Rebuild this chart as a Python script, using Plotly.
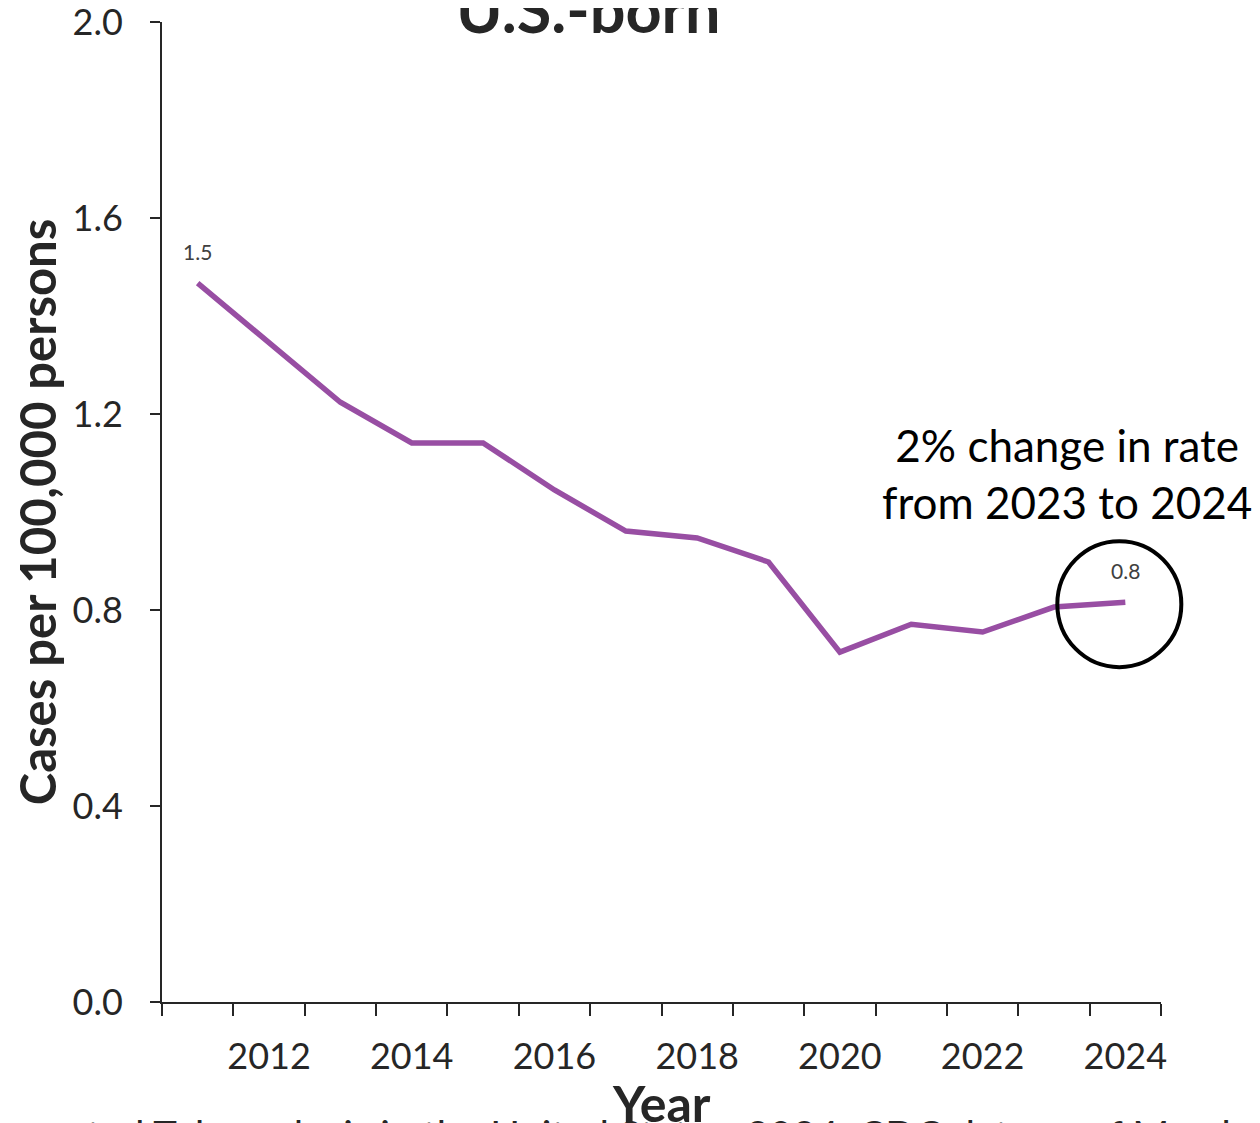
import plotly.graph_objects as go

years = list(range(2011, 2025))
rates = [1.467, 1.345, 1.224, 1.141, 1.141, 1.045, 0.961, 0.947, 0.898, 0.714, 0.771, 0.755, 0.806, 0.816]
label_years = [2011, 2024]
label_texts = ["1.5", "0.8"]
y_ticks = [0.0, 0.4, 0.8, 1.2, 1.6, 2.0]
x_label_years = [2012, 2014, 2016, 2018, 2020, 2022, 2024]

FONT = "Lato"
AX = "#262626"
PURPLE = "#984EA3"

x_range = [years[0] - 0.5, years[-1] + 0.5]
y_range = [0, 2.0]

fig = go.Figure()
fig.add_trace(go.Scatter(
    x=years, y=rates, mode="lines",
    line=dict(color=PURPLE, width=5.5),
    hoverinfo="x+y", showlegend=False,
))

annotations = []
for yr, txt in zip(label_years, label_texts):
    annotations.append(dict(
        x=yr, y=rates[years.index(yr)], xref="x", yref="y",
        text=txt, showarrow=False, yshift=32, xanchor="center",
        font=dict(family=FONT, size=21, color="#404040"),
    ))

annotations.append(dict(
    x=0.906, y=0.539, xref="paper", yref="paper", xanchor="center", yanchor="middle",
    text="2% change in rate<br>from 2023 to 2024", showarrow=False,
    font=dict(family=FONT, size=44, color="#000000"), align="center",
))
annotations.append(dict(
    x=0.427, y=1.0, xref="paper", yref="paper", xanchor="center", yanchor="bottom",
    yshift=-26,
    text="<b>U.S.-born</b>", showarrow=False,
    font=dict(family=FONT, size=63, color=AX),
))
annotations.append(dict(
    x=-0.182, y=-0.109, xref="paper", yref="paper", xanchor="left", yanchor="top",
    text="Reported Tuberculosis in the United States, 2024. CDC data as of March 2025.",
    showarrow=False,
    font=dict(family=FONT, size=40, color=AX),
))
annotations.append(dict(
    x=0.5, y=-0.103, xref="paper", yref="paper", xanchor="center", yanchor="middle",
    text="<b>Year</b>", showarrow=False,
    font=dict(family=FONT, size=50, color=AX),
))

# circle anchored at the last data point (converted to paper fractions so it is not clipped)
last_x = (years[-1] - x_range[0]) / (x_range[1] - x_range[0])
last_y = (rates[-1] - y_range[0]) / (y_range[1] - y_range[0])

fig.update_layout(
    width=1252, height=1115,
    margin=dict(l=154, r=99, t=14, b=121),
    paper_bgcolor="white", plot_bgcolor="white",
    font=dict(family=FONT, color=AX),
    annotations=annotations,
    shapes=[dict(
        type="circle", xref="paper", yref="paper",
        xsizemode="pixel", ysizemode="pixel",
        xanchor=last_x, yanchor=last_y,
        x0=-68, x1=56, y0=-65, y1=61,
        line=dict(color="#000000", width=4),
    )],
)

fig.update_xaxes(
    range=x_range, automargin=False,
    tickvals=x_label_years, ticktext=[str(y) for y in x_label_years],
    ticks="", showgrid=False, zeroline=False,
    showline=True, linecolor=AX, linewidth=2,
    tickfont=dict(family=FONT, size=36, color=AX),
    ticklabelstandoff=22,
    minor=dict(tickvals=[y - 0.5 for y in years] + [years[-1] + 0.5],
               ticks="outside", ticklen=12, tickwidth=2, tickcolor=AX, showgrid=False),
)
fig.update_yaxes(
    range=[y_range[0] - 0.0001, y_range[1] + 0.0001], automargin=False,
    tickvals=y_ticks, ticktext=[f"{v:.1f}" for v in y_ticks],
    ticks="outside", ticklen=10, tickwidth=2, tickcolor=AX,
    showgrid=False, zeroline=False,
    showline=True, linecolor=AX, linewidth=2,
    tickfont=dict(family=FONT, size=36, color=AX),
    ticklabelstandoff=20, ticklabeloverflow="allow",
    title=dict(text="<b>Cases per 100,000 persons</b>", font=dict(family=FONT, size=49, color=AX), standoff=26),
)

fig.write_html("out.html")
